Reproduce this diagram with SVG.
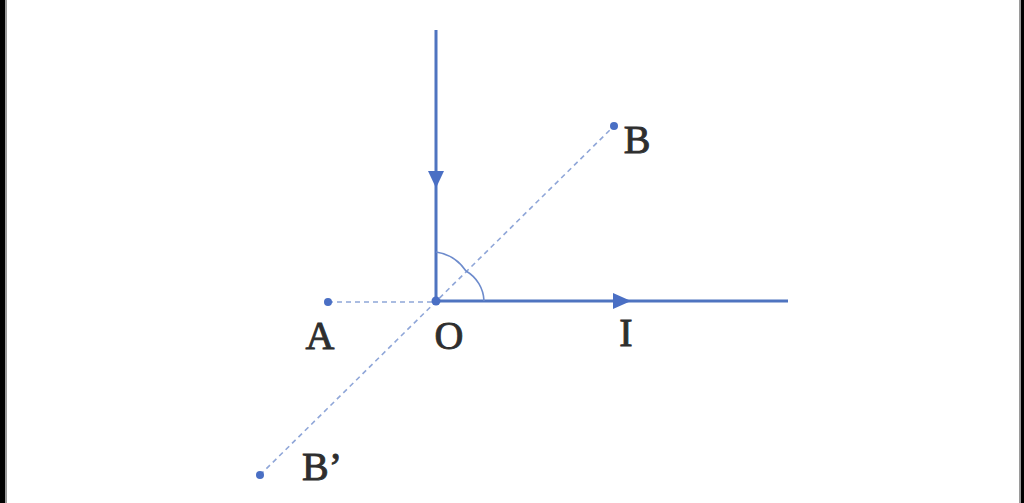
<svg xmlns="http://www.w3.org/2000/svg" width="1024" height="503" viewBox="0 0 1024 503">
<style>
.ray{stroke:#4f74c0;stroke-width:3;fill:none}
.dash{stroke:#8fa6d8;stroke-width:1.6;stroke-dasharray:5 4;fill:none}
.arc{stroke:#6d8bcc;stroke-width:1.6;fill:none}
.pt{fill:#4a6fc4}
.lbl{font-family:"Liberation Serif",serif;font-size:40px;fill:#2e2e2e;stroke:#2e2e2e;stroke-width:0.9;text-anchor:middle}
.head{fill:#4a6fc4}
</style>
<rect width="1024" height="503" fill="#ffffff"/>
<rect x="0" y="0" width="5" height="503" fill="#000"/>
<rect x="5" y="0" width="2" height="503" fill="#9a9a9a"/>
<rect x="1019" y="0" width="2" height="503" fill="#9a9a9a"/>
<rect x="1021" y="0" width="3" height="503" fill="#000"/>
<g id="connectors">
<line class="dash" x1="328" y1="302" x2="436" y2="302"/>
<line class="dash" x1="260" y1="475" x2="614" y2="126"/>
<line class="ray" x1="436" y1="30" x2="436" y2="301"/>
<line class="ray" x1="436" y1="301" x2="788" y2="301"/>
<polygon class="head" points="428,171 444,171 436,188"/>
<polygon class="head" points="613,293 613,309 631,301"/>
<path class="arc" d="M436,252 A44,44 0 0 1 466,271"/>
<path class="arc" d="M466,271 A36,36 0 0 1 484,301"/>
</g>
<g id="O"><circle class="pt" cx="436" cy="301" r="4.5"/><text class="lbl" x="449" y="349">O</text></g>
<g id="A"><circle class="pt" cx="328" cy="302" r="4"/><text class="lbl" x="320" y="349">A</text></g>
<g id="B"><circle class="pt" cx="614" cy="126" r="4"/><text class="lbl" x="637" y="153">B</text></g>
<g id="Bp"><circle class="pt" cx="260" cy="475" r="4"/><text class="lbl" x="322" y="480">B’</text></g>
<g id="I"><text class="lbl" x="626" y="346">I</text></g>
</svg>
